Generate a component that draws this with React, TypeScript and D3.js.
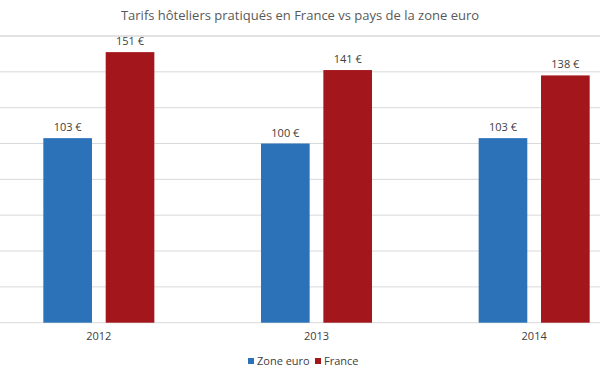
import React from "react";
import * as d3 from "d3";

const years = ["2012", "2013", "2014"];
const seriesNames = ["Zone euro", "France"];
const zoneEuro = [103, 100, 103];
const france = [151, 141, 138];
const yTicks = [0, 20, 40, 60, 80, 100, 120, 140, 160];
const colors = ["#2b72b8", "#a3161b"];
const title = "Tarifs hôteliers pratiqués en France vs pays de la zone euro";

const W = 600;
const H = 372;
const font = "'Open Sans', 'Liberation Sans', sans-serif";

export default function App() {
  const y = d3.scaleLinear().domain([0, 160]).range([322.7, 36]);
  const x0 = d3
    .scaleBand<string>()
    .domain(years)
    .range([-10, 643])
    .paddingInner(0.49)
    .paddingOuter(0.245);
  const x1 = d3
    .scaleBand<string>()
    .domain(seriesNames)
    .range([0, x0.bandwidth()])
    .paddingInner(0.22);
  const values = [zoneEuro, france];

  return (
    <svg
      width={W}
      height={H}
      style={{ position: "absolute", left: 0, top: 0, background: "#fff" }}
    >
      <text
        x={300}
        y={20}
        textAnchor="middle"
        fontFamily={font}
        fontSize={13}
        fill="#595959"
      >
        {title}
      </text>
      {yTicks.map((t) => (
        <line
          key={t}
          x1={0}
          x2={W}
          y1={y(t)}
          y2={y(t)}
          stroke="#d9d9d9"
          strokeWidth={t === 160 ? 1.5 : 1}
        />
      ))}
      {years.map((yr, i) => (
        <g key={yr} transform={`translate(${x0(yr)},0)`}>
          {seriesNames.map((s, j) => {
            const v = values[j][i];
            const bx = x1(s)!;
            return (
              <g key={s}>
                <rect
                  x={bx}
                  y={y(v)}
                  width={x1.bandwidth()}
                  height={y(0) - y(v)}
                  fill={colors[j]}
                />
                <text
                  x={bx + x1.bandwidth() / 2}
                  y={y(v) - 7}
                  textAnchor="middle"
                  fontFamily={font}
                  fontSize={11}
                  fill="#404040"
                >
                  {`${v} €`}
                </text>
              </g>
            );
          })}
          <text
            x={x0.bandwidth() / 2}
            y={340}
            textAnchor="middle"
            fontFamily={font}
            fontSize={11}
            fill="#404040"
          >
            {yr}
          </text>
        </g>
      ))}
      <g transform="translate(0,0)">
        <rect x={248} y={358} width={6} height={6} fill={colors[0]} />
        <text x={257} y={365} fontFamily={font} fontSize={11} fill="#404040">
          {seriesNames[0]}
        </text>
        <rect x={315} y={358} width={6} height={6} fill={colors[1]} />
        <text x={324} y={365} fontFamily={font} fontSize={11} fill="#404040">
          {seriesNames[1]}
        </text>
      </g>
    </svg>
  );
}
